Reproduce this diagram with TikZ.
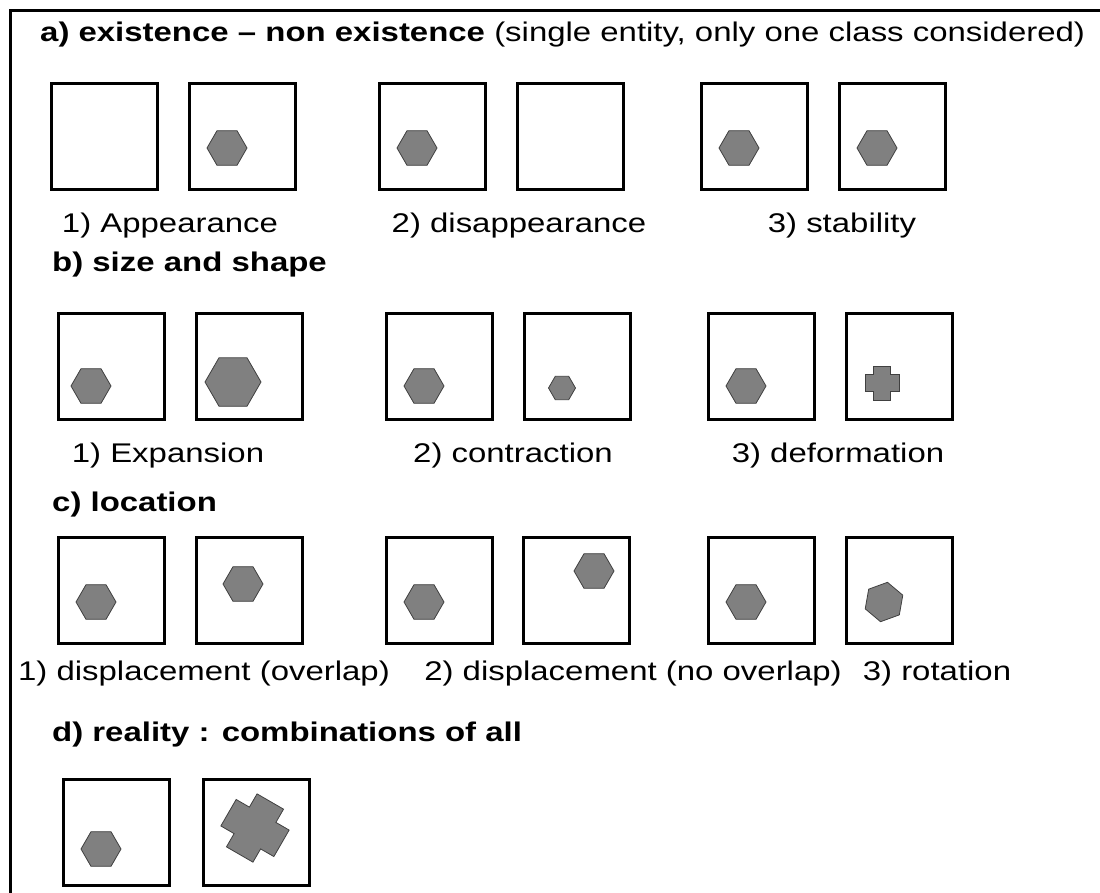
\documentclass[tikz,border=0pt]{standalone}
\usepackage{fontspec}
\setmainfont{Liberation Sans}
\usepackage{graphicx}
\usepackage{tikz}
\usetikzlibrary{calc,positioning,shapes.geometric}

% text is set wider than the font gives
\newcommand{\wide}[1]{\scalebox{1.22}[1]{#1}}

\begin{document}
\begin{tikzpicture}[x=1pt,y=-1pt,
    panel/.style={draw,line width=3pt,anchor=north west,minimum size=106pt,inner sep=0pt},
    blob/.style={regular polygon,regular polygon sides=6,draw=black!75,line width=0.8pt,
                 fill=black!50,inner sep=0pt,minimum size=40pt},
    heading/.style={anchor=west,inner sep=0pt,font=\fontsize{27}{31}\selectfont},
    caption/.style={inner sep=0pt,font=\fontsize{27}{31}\selectfont},
    plus/.pic={\draw[draw=black!75,line width=0.8pt,fill=black!50]
      (-8.5,-17) -- (8.5,-17) -- (8.5,-8.5) -- (17,-8.5) -- (17,8.5) -- (8.5,8.5)
      -- (8.5,17) -- (-8.5,17) -- (-8.5,8.5) -- (-17,8.5) -- (-17,-8.5) -- (-8.5,-8.5) -- cycle;}]
%
  \useasboundingbox (0,0) rectangle (1100,892);
  \draw[line width=3pt] (1110,10) -- (10,10) -- (10,900);
%
% a) existence
  \node[heading] (ha) at (40,35) {\wide{\textbf{a) existence -- non existence} (single entity, only one class considered)}};
  \node[panel] (a1) at (50,82) {};
  \node[panel] (a2) at (188,82) {};
  \node[panel] (a3) at (378,82) {};
  \node[panel] (a4) at (516,82) {};
  \node[panel] (a5) at (700,82) {};
  \node[panel] (a6) at (838,82) {};
  \node[blob] (ba2) at ($(a2.north west)+(39,66)$) {};
  \node[blob] (ba3) at ($(a3.north west)+(39,66)$) {};
  \node[blob] (ba5) at ($(a5.north west)+(39,66)$) {};
  \node[blob] (ba6) at ($(a6.north west)+(39,66)$) {};
  \node[caption] (ca1) at (170,226) {\wide{1) Appearance}};
  \node[caption] (ca2) at (519,226) {\wide{2) disappearance}};
  \node[caption] (ca3) at (842,226) {\wide{3) stability}};
%
% b) size and shape
  \node[heading] (hb) at (52,265) {\wide{\textbf{b) size and shape}}};
  \node[panel] (b1) at (57,312) {};
  \node[panel] (b2) at (195,312) {};
  \node[panel] (b3) at (385,312) {};
  \node[panel] (b4) at (523,312) {};
  \node[panel] (b5) at (707,312) {};
  \node[panel] (b6) at (845,312) {};
  \node[blob] (bb1) at ($(b1.north west)+(34,74)$) {};
  \node[blob,minimum size=56pt] (bb2) at ($(b2.north west)+(38,70)$) {};
  \node[blob] (bb3) at ($(b3.north west)+(39,74)$) {};
  \node[blob,minimum size=27pt] (bb4) at ($(b4.north west)+(39,76)$) {};
  \node[blob] (bb5) at ($(b5.north west)+(39,74)$) {};
  \pic (bb6) at ($(b6.north west)+(37,71)$) {plus};
  \node[caption] (cb1) at (168,456) {\wide{1) Expansion}};
  \node[caption] (cb2) at (513,456) {\wide{2) contraction}};
  \node[caption] (cb3) at (838,456) {\wide{3) deformation}};
%
% c) location
  \node[heading] (hc) at (52,505) {\wide{\textbf{c) location}}};
  \node[panel] (c1) at (57,536) {};
  \node[panel] (c2) at (195,536) {};
  \node[panel] (c3) at (385,536) {};
  \node[panel] (c4) at (522,536) {};
  \node[panel] (c5) at (707,536) {};
  \node[panel] (c6) at (845,536) {};
  \node[blob] (bc1) at ($(c1.north west)+(39,66)$) {};
  \node[blob] (bc2) at ($(c2.north west)+(48,48)$) {};
  \node[blob] (bc3) at ($(c3.north west)+(39,66)$) {};
  \node[blob] (bc4) at ($(c4.north west)+(72,35)$) {};
  \node[blob] (bc5) at ($(c5.north west)+(39,66)$) {};
  \node[blob,rotate=20] (bc6) at ($(c6.north west)+(39,66)$) {};
  \node[caption] (cc1) at (204,674) {\wide{1) displacement (overlap)}};
  \node[caption] (cc2) at (633,674) {\wide{2) displacement (no overlap)}};
  \node[caption] (cc3) at (937,674) {\wide{3) rotation}};
%
% d) reality
  \node[heading] (hd) at (52,735) {\wide{\textbf{d) reality : combinations of all}}};
  \node[panel] (d1) at (62,778) {};
  \node[panel] (d2) at (202,778) {};
  \node[blob] (bd1) at ($(d1.north west)+(39,71)$) {};
  \pic[rotate=-30,scale=1.8] (bd2) at ($(d2.north west)+(53,50)$) {plus};
\end{tikzpicture}
\end{document}
